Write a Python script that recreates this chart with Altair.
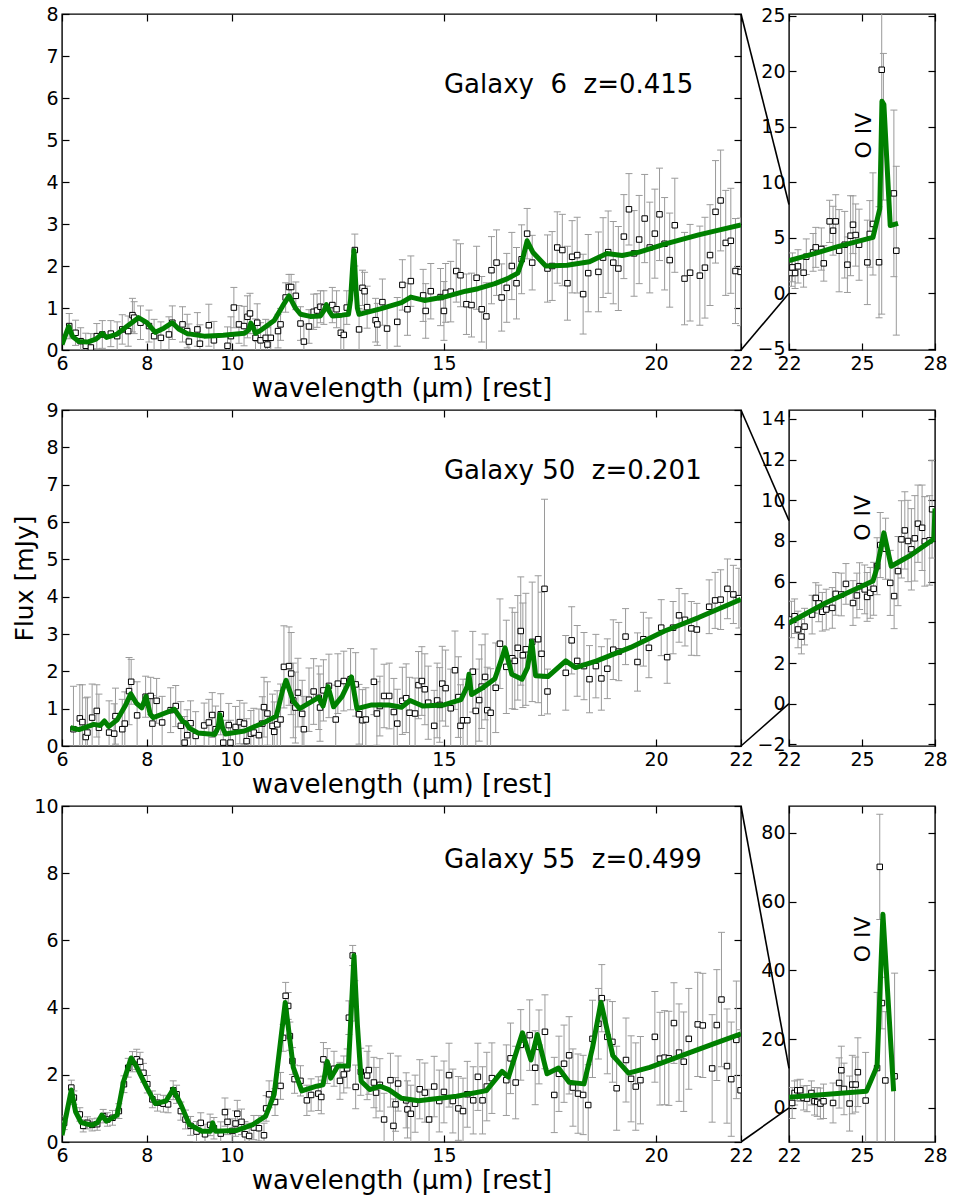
import altair as alt
import pandas as pd

FONT = "DejaVu Sans"
GRAY = "#9a9a9a"
GREEN = "#008000"

# ---------------- Galaxy 6 (z=0.415) ----------------
g6_wave = [6.17, 6.32, 6.44, 6.56, 6.68, 6.82, 6.95, 7.15, 7.30, 7.42, 7.56, 7.66, 7.70, 7.85, 8.05, 8.17, 8.33, 8.52, 8.60, 8.84,
           8.95, 8.99, 9.19, 9.25, 9.46, 9.58, 9.90, 9.98, 10.05, 10.17, 10.29, 10.37, 10.43, 10.56, 10.60, 10.68, 10.80, 10.84, 10.92, 11.09,
           11.15, 11.27, 11.35, 11.40, 11.51, 11.62, 11.70, 11.82, 11.93, 12.01, 12.09, 12.17, 12.37, 12.47, 12.57, 12.64, 12.71, 12.90, 13.00, 13.08,
           13.13, 13.19, 13.39, 13.43, 13.55, 13.66, 13.90, 14.02, 14.14, 14.22, 14.51, 14.57, 14.69, 14.92, 15.00, 15.04, 15.16, 15.29, 15.39, 15.53,
           15.65, 15.77, 15.89, 16.00, 16.12, 16.24, 16.36, 16.48, 16.60, 16.71, 16.83, 16.96, 17.08, 17.44, 17.55, 17.67, 17.79, 17.91, 18.02, 18.14,
           18.28, 18.40, 18.64, 18.75, 18.87, 18.99, 19.11, 19.24, 19.36, 19.48, 19.60, 19.73, 19.85, 19.97, 20.08, 20.20, 20.32, 20.44, 20.67, 20.80,
           21.03, 21.15, 21.27, 21.40, 21.52, 21.64, 21.76, 21.87, 21.99]
g6_flux = [0.57, 0.41, 0.21, 0.10, 0.06, 0.33, 0.37, 0.39, 0.33, 0.49, 0.45, 0.83, 0.77, 0.65, 0.57, 0.33, 0.29, 0.37, 0.65, 0.61,
           0.45, 0.20, 0.49, 0.15, 0.59, 0.23, 0.10, 0.33, 1.01, 0.61, 0.57, 0.79, 0.87, 0.29, 0.65, 0.23, 0.29, 0.13, 0.29, 0.45,
           0.61, 1.25, 1.50, 1.50, 1.29, 0.63, 0.20, 0.56, 0.91, 0.94, 1.03, 1.01, 1.07, 0.97, 0.41, 0.36, 1.01, 2.38, 0.49, 1.48,
           1.40, 1.02, 0.71, 0.61, 1.14, 0.51, 0.67, 1.55, 0.97, 1.64, 1.30, 0.93, 1.40, 1.26, 0.93, 1.36, 1.39, 1.88, 1.78, 1.09,
           1.07, 1.72, 0.97, 0.80, 1.90, 2.08, 1.25, 1.48, 2.00, 1.59, 2.16, 2.77, 2.08, 1.94, 2.00, 2.44, 2.38, 1.59, 2.22, 2.26,
           1.33, 1.83, 1.86, 2.20, 2.33, 2.08, 1.94, 2.70, 3.35, 2.30, 2.63, 3.13, 2.44, 2.77, 3.23, 2.53, 2.14, 2.97, 1.70, 1.84,
           1.77, 1.96, 2.26, 3.29, 3.56, 2.55, 2.60, 1.88, 1.86]
g6_err = [0.30, 0.30, 0.32, 0.30, 0.33, 0.30, 0.33, 0.31, 0.34, 0.35, 0.36, 0.40, 0.38, 0.40, 0.38, 0.40, 0.38, 0.42, 0.40, 0.42,
          0.40, 0.42, 0.40, 0.45, 0.50, 0.45, 0.45, 0.46, 0.48, 0.45, 0.47, 0.50, 0.48, 0.45, 0.45, 0.42, 0.44, 0.40, 0.40, 0.40,
          0.38, 0.35, 0.30, 0.30, 0.33, 0.40, 0.42, 0.40, 0.42, 0.40, 0.38, 0.40, 0.42, 0.44, 0.45, 0.46, 0.40, 0.38, 0.50, 0.42,
          0.45, 0.50, 0.52, 0.50, 0.55, 0.55, 0.58, 0.60, 0.62, 0.60, 0.62, 0.65, 0.66, 0.68, 0.70, 0.70, 0.72, 0.74, 0.75, 0.72,
          0.76, 0.75, 0.78, 0.80, 0.80, 0.78, 0.80, 0.82, 0.80, 0.85, 0.82, 0.60, 0.65, 0.80, 0.82, 0.85, 0.85, 0.88, 0.86, 0.90,
          0.95, 0.92, 0.95, 0.95, 0.98, 0.98, 1.00, 1.00, 0.85, 1.02, 1.05, 1.05, 1.08, 1.06, 1.10, 1.10, 1.12, 1.12, 1.10, 1.15,
          1.18, 1.20, 1.20, 1.22, 1.20, 1.25, 1.25, 1.25, 1.28]
g6_model_wave = [6.00, 6.08, 6.16, 6.25, 6.40, 6.60, 6.80, 6.95, 7.05, 7.30, 7.55, 7.80, 8.00, 8.20, 8.40, 8.60, 8.75, 8.95, 9.35, 9.80,
                 10.30, 10.40, 10.45, 10.50, 10.56, 10.70, 11.00, 11.20, 11.35, 11.50, 11.62, 11.85, 12.09, 12.18, 12.23, 12.30, 12.37, 12.60, 12.75, 12.80,
                 12.85, 12.88, 12.92, 12.96, 13.00, 13.50, 14.00, 14.22, 14.54, 15.00, 15.51, 15.80, 16.20, 16.50, 16.74, 16.85, 16.96, 17.10, 17.40, 17.90,
                 18.43, 18.84, 19.20, 19.60, 20.20, 21.00, 21.50, 22.00]
g6_model_flux = [0.13, 0.35, 0.56, 0.32, 0.20, 0.19, 0.26, 0.39, 0.30, 0.38, 0.58, 0.77, 0.65, 0.42, 0.52, 0.65, 0.50, 0.39, 0.33, 0.35,
                 0.40, 0.48, 0.64, 0.55, 0.40, 0.48, 0.70, 1.05, 1.29, 1.00, 0.85, 0.80, 0.81, 0.95, 1.08, 0.92, 0.81, 0.83, 0.85, 1.20,
                 2.00, 2.37, 1.60, 1.00, 0.85, 0.98, 1.13, 1.26, 1.18, 1.26, 1.40, 1.46, 1.58, 1.70, 1.83, 2.15, 2.60, 2.32, 2.00, 2.02,
                 2.10, 2.30, 2.25, 2.33, 2.52, 2.74, 2.86, 2.98]
g6_in_wave = [22.10, 22.14, 22.25, 22.37, 22.60, 22.71, 22.99, 23.10, 23.33, 23.43, 23.67, 23.81, 23.92, 24.06, 24.29, 24.40, 24.53, 24.63, 24.74, 24.88,
              25.22, 25.32, 25.45, 25.70, 25.81, 25.88, 26.31, 26.41]
g6_in_flux = [1.83, 2.34, 1.83, 2.43, 1.86, 3.30, 3.69, 4.14, 3.99, 2.70, 6.48, 5.64, 6.48, 3.84, 4.38, 2.58, 5.19, 6.18, 5.25, 4.38,
              2.79, 5.35, 6.25, 2.80, 20.13, 15.00, 9.00, 3.84]
g6_in_err = [1.2, 1.3, 1.4, 1.5, 1.3, 1.6, 1.7, 1.8, 1.9, 1.6, 1.9, 2.2, 2.4, 3.7, 3.0, 2.5, 3.6, 2.6, 2.8, 3.2,
             3.8, 3.0, 4.6, 5.0, 22.0, 6.6, 7.5, 7.6]
g6_in_model_wave = [22.00, 23.00, 24.00, 25.45, 25.73, 25.82, 25.90, 26.16, 26.48]
g6_in_model_flux = [2.94, 3.55, 4.20, 5.04, 7.60, 17.30, 17.00, 6.10, 6.30]

# ---------------- Galaxy 50 (z=0.201) ----------------
g50_wave = [6.27, 6.42, 6.48, 6.56, 6.60, 6.71, 6.82, 6.87, 7.11, 7.23, 7.26, 7.42, 7.48, 7.58, 7.63, 7.77, 7.97, 8.09, 8.13, 8.23,
            8.36, 8.56, 8.68, 8.80, 8.89, 8.95, 9.03, 9.15, 9.35, 9.46, 9.54, 9.62, 9.74, 9.80, 9.93, 9.97, 10.09, 10.19, 10.29, 10.35,
            10.45, 10.52, 10.64, 10.72, 10.76, 10.84, 10.96, 11.00, 11.07, 11.15, 11.23, 11.35, 11.40, 11.45, 11.50, 11.56, 11.66, 11.70, 11.82, 11.93,
            12.05, 12.08, 12.16, 12.29, 12.45, 12.50, 12.64, 12.80, 12.92, 13.00, 13.08, 13.16, 13.35, 13.42, 13.49, 13.59, 13.71, 13.82, 13.90, 14.02,
            14.11, 14.19, 14.32, 14.40, 14.48, 14.55, 14.63, 14.77, 14.84, 14.90, 14.96, 15.04, 15.16, 15.26, 15.34, 15.39, 15.45, 15.55, 15.68, 15.75,
            15.83, 15.89, 15.97, 16.02, 16.10, 16.22, 16.32, 16.47, 16.61, 16.67, 16.74, 16.81, 16.86, 16.93, 17.08, 17.22, 17.30, 17.37, 17.44, 17.87,
            18.01, 18.14, 18.30, 18.43, 18.58, 18.71, 18.85, 18.99, 19.12, 19.28, 19.56, 19.70, 19.83, 20.12, 20.26, 20.40, 20.54, 20.68, 20.83, 20.96,
            21.25, 21.39, 21.52, 21.68, 21.82, 21.95]
g50_flux = [0.45, 0.74, 0.64, 0.24, 0.36, 0.76, 0.94, 0.49, 0.36, 0.33, 0.80, 0.45, 0.60, 1.47, 1.72, 0.82, 1.32, 1.34, 0.60, 1.21,
            0.63, 0.96, 1.07, 0.54, 0.09, 0.29, 0.61, 0.27, 0.55, 0.63, 0.83, 0.45, 0.85, 0.09, 0.56, 0.09, 0.51, 0.64, 0.60, 0.13,
            0.33, 0.36, 0.29, 0.60, 1.04, 0.87, 0.54, 0.38, 0.58, 0.71, 2.12, 2.14, 1.94, 1.22, 1.03, 1.43, 0.86, 0.45, 1.24, 1.46,
            1.29, 1.03, 1.49, 1.61, 0.71, 1.67, 1.74, 1.79, 1.65, 0.85, 0.69, 0.71, 1.72, 0.87, 1.07, 1.34, 1.34, 0.91, 0.60, 1.21,
            1.28, 0.89, 0.87, 1.63, 1.74, 1.52, 1.16, 0.54, 1.22, 1.10, 1.67, 1.55, 1.01, 2.03, 1.31, 0.54, 0.69, 0.69, 1.99, 0.94,
            1.23, 1.59, 1.85, 0.96, 0.89, 1.56, 2.74, 2.12, 2.35, 2.28, 2.63, 3.08, 2.43, 2.59, 2.79, 2.86, 2.47, 4.21, 1.46, 1.96,
            2.83, 2.28, 2.14, 1.79, 2.14, 1.81, 2.07, 2.58, 2.53, 2.93, 2.25, 2.86, 2.63, 3.17, 2.38, 3.17, 3.50, 3.38, 3.15, 3.12,
            3.73, 3.90, 3.92, 4.21, 4.06, 3.96]
g50_err = [1.15, 0.90, 1.00, 1.05, 0.95, 0.90, 0.70, 0.90, 0.85, 0.80, 0.75, 0.80, 0.85, 0.90, 0.60, 0.90, 0.55, 0.50, 0.75, 0.60,
           0.70, 0.60, 0.55, 0.65, 0.70, 0.68, 0.60, 0.65, 0.60, 0.62, 0.60, 0.62, 0.55, 0.60, 0.58, 0.60, 0.55, 0.58, 0.55, 0.60,
           0.62, 0.65, 0.70, 0.72, 0.80, 0.85, 0.85, 0.80, 0.90, 0.95, 1.10, 1.05, 1.10, 1.00, 0.95, 0.92, 0.90, 0.88, 0.85, 0.88,
           0.85, 0.90, 0.82, 0.85, 0.92, 0.80, 0.80, 0.82, 0.85, 0.80, 0.82, 0.85, 0.88, 0.85, 0.80, 0.85, 0.88, 0.90, 0.92, 0.90,
           0.92, 0.95, 0.95, 0.90, 0.92, 0.95, 0.98, 0.95, 1.00, 1.00, 1.00, 1.02, 1.05, 1.05, 1.08, 1.10, 1.10, 1.10, 1.08, 1.12,
           1.10, 1.12, 1.15, 1.15, 1.18, 1.20, 1.20, 1.25, 1.35, 1.30, 1.40, 1.45, 1.40, 1.50, 1.60, 1.70, 1.65, 2.40, 0.60, 1.00,
           0.90, 0.95, 0.90, 0.90, 0.85, 0.85, 0.80, 0.80, 0.78, 0.75, 0.78, 0.72, 0.80, 0.75, 0.70, 0.70, 0.72, 0.70, 0.72, 0.70,
           0.72, 0.75, 0.80, 0.80, 0.78, 0.80]
g50_model_wave = [6.20, 6.40, 6.60, 6.75, 6.90, 7.00, 7.10, 7.30, 7.50, 7.62, 7.75, 7.88, 7.98, 8.08, 8.15, 8.40, 8.65, 8.85, 8.92, 9.00,
                  9.20, 9.60, 9.68, 9.72, 9.78, 9.85, 10.30, 10.80, 11.05, 11.20, 11.28, 11.45, 11.60, 11.90, 12.05, 12.15, 12.27, 12.40, 12.60, 12.82,
                  12.95, 13.30, 13.70, 14.00, 14.20, 14.50, 15.00, 15.40, 15.55, 15.59, 15.65, 15.90, 16.20, 16.38, 16.44, 16.60, 16.84, 16.97, 17.07, 17.16,
                  17.45, 17.87, 18.10, 18.60, 19.40, 20.20, 21.00, 22.00]
g50_model_flux = [0.49, 0.44, 0.52, 0.58, 0.55, 0.67, 0.52, 0.70, 1.10, 1.40, 1.15, 1.02, 1.33, 0.85, 0.76, 0.87, 0.98, 0.65, 0.62, 0.48,
                  0.35, 0.31, 0.50, 0.84, 0.50, 0.32, 0.40, 0.65, 0.80, 1.50, 1.76, 1.20, 1.00, 1.20, 1.30, 1.07, 1.59, 1.05, 1.33, 1.85,
                  1.00, 1.10, 1.10, 1.04, 1.22, 1.07, 1.10, 1.24, 1.60, 1.92, 1.38, 1.55, 1.80, 2.40, 2.63, 1.92, 1.79, 2.10, 2.80, 1.88,
                  1.86, 2.28, 2.10, 2.28, 2.64, 3.08, 3.44, 3.93]
g50_in_wave = [22.10, 22.23, 22.37, 22.51, 22.64, 22.95, 23.10, 23.22, 23.37, 23.53, 23.78, 23.92, 24.15, 24.34, 24.63, 24.79, 24.90, 25.11, 25.21, 25.34,
               25.48, 25.62, 25.75, 25.97, 26.16, 26.32, 26.48, 26.62, 26.76, 26.89, 27.03, 27.17, 27.30, 27.47, 27.58, 27.78, 27.88]
g50_in_flux = [4.14, 4.30, 3.65, 3.30, 3.79, 4.38, 5.20, 4.93, 4.52, 4.63, 4.71, 5.40, 5.37, 5.89, 4.95, 5.32, 5.78, 5.62, 5.25, 5.45,
               5.65, 6.76, 7.80, 7.62, 5.94, 5.29, 6.52, 8.08, 8.52, 8.00, 7.59, 8.13, 8.85, 8.65, 7.98, 8.03, 9.56]
g50_in_err = [0.90, 0.85, 0.90, 0.85, 0.90, 0.95, 0.75, 0.90, 0.95, 1.00, 1.00, 1.05, 1.05, 1.00, 1.10, 1.10, 1.15, 1.20, 1.20, 1.25,
              1.30, 1.40, 1.60, 1.50, 1.60, 1.60, 1.70, 1.90, 1.90, 2.00, 2.00, 2.10, 1.90, 2.10, 2.20, 2.20, 2.40]
g50_in_model_wave = [22.00, 23.50, 25.45, 25.62, 25.90, 26.20, 27.00, 27.95, 28.00]
g50_in_model_flux = [3.97, 4.95, 6.03, 6.70, 8.40, 6.76, 7.30, 8.10, 9.60]

# ---------------- Galaxy 55 (z=0.499) ----------------
g55_wave = [6.05, 6.22, 6.28, 6.42, 6.50, 6.60, 6.71, 6.83, 6.97, 7.07, 7.19, 7.34, 7.46, 7.56, 7.66, 7.76, 7.84, 7.92, 8.01, 8.13,
            8.25, 8.39, 8.50, 8.62, 8.70, 8.80, 8.91, 9.03, 9.17, 9.27, 9.37, 9.49, 9.58, 9.74, 9.84, 9.90, 10.01, 10.09, 10.13, 10.23,
            10.31, 10.41, 10.52, 10.64, 10.76, 10.81, 10.88, 11.02, 11.15, 11.21, 11.27, 11.33, 11.37, 11.43, 11.48, 11.62, 11.77, 11.87, 12.04, 12.11,
            12.16, 12.25, 12.41, 12.55, 12.64, 12.72, 12.76, 12.85, 12.90, 12.92, 13.04, 13.19, 13.23, 13.35, 13.40, 13.49, 13.59, 13.74, 13.81, 13.86,
            13.92, 14.11, 14.14, 14.22, 14.32, 14.43, 14.55, 14.65, 14.77, 14.89, 15.00, 15.12, 15.21, 15.34, 15.45, 15.55, 15.69, 15.80, 15.91, 16.01,
            16.13, 16.47, 16.57, 16.69, 16.81, 17.02, 17.15, 17.24, 17.38, 17.60, 17.71, 17.83, 17.95, 18.04, 18.16, 18.28, 18.40, 18.50, 18.64, 18.72,
            18.85, 18.97, 19.07, 19.29, 19.41, 19.52, 19.63, 19.97, 20.09, 20.20, 20.30, 20.42, 20.54, 20.65, 20.77, 20.98, 21.10, 21.32, 21.43, 21.54,
            21.67, 21.77, 21.89, 21.99]
g55_flux = [0.57, 1.62, 1.32, 0.82, 0.48, 0.57, 0.51, 0.53, 0.77, 0.67, 0.72, 0.92, 1.72, 2.21, 2.39, 2.46, 2.39, 2.06, 1.72, 1.27,
            1.17, 1.14, 1.12, 1.54, 1.42, 0.92, 0.67, 0.48, 0.31, 0.57, 0.23, 0.51, 0.41, 0.25, 0.89, 0.60, 0.33, 0.55, 0.84, 0.60,
            0.23, 0.18, 0.43, 0.41, 0.20, 1.00, 1.42, 1.19, 1.67, 3.10, 4.35, 4.05, 3.15, 2.41, 1.87, 1.82, 1.24, 1.40, 1.44, 1.34,
            2.46, 2.26, 2.18, 1.82, 2.01, 2.19, 3.70, 5.55, 4.20, 1.64, 2.09, 1.98, 2.14, 1.77, 1.47, 1.70, 0.67, 1.84, 0.48, 1.12,
            1.74, 1.24, 0.97, 0.84, 1.14, 1.57, 1.47, 0.67, 1.65, 1.22, 1.49, 1.99, 1.22, 1.00, 0.92, 1.42, 1.24, 1.94, 1.24, 1.65,
            1.90, 1.84, 2.49, 1.77, 2.89, 3.18, 2.21, 2.83, 3.28, 1.40, 2.03, 2.33, 2.58, 1.62, 1.44, 1.40, 1.10, 3.07, 3.52, 4.28,
            3.13, 2.98, 1.60, 2.44, 1.88, 1.65, 1.84, 3.13, 2.48, 2.51, 2.49, 3.54, 2.66, 2.39, 3.07, 3.50, 3.47, 2.19, 3.48, 4.24,
            2.26, 1.87, 3.04, 1.54]
g55_err = [0.20, 0.22, 0.20, 0.20, 0.18, 0.18, 0.18, 0.18, 0.20, 0.20, 0.22, 0.22, 0.25, 0.28, 0.30, 0.30, 0.28, 0.28, 0.26, 0.25,
           0.25, 0.25, 0.25, 0.28, 0.27, 0.27, 0.28, 0.28, 0.30, 0.30, 0.30, 0.32, 0.32, 0.35, 0.42, 0.38, 0.36, 0.38, 0.40, 0.38,
           0.38, 0.38, 0.36, 0.38, 0.36, 0.38, 0.40, 0.40, 0.40, 0.40, 0.40, 0.40, 0.42, 0.40, 0.42, 0.45, 0.45, 0.48, 0.50, 0.50,
           0.50, 0.52, 0.52, 0.55, 0.55, 0.58, 0.50, 0.30, 0.60, 0.65, 0.70, 0.72, 0.72, 0.75, 0.75, 0.78, 0.78, 0.80, 0.80, 0.80,
           0.82, 0.82, 0.85, 0.85, 0.85, 0.88, 0.88, 0.90, 0.90, 0.92, 0.92, 0.95, 0.95, 0.95, 0.98, 0.98, 1.00, 1.00, 1.00, 1.02,
           1.05, 1.05, 1.05, 1.08, 1.05, 1.05, 1.10, 1.10, 1.10, 1.12, 1.12, 1.15, 1.15, 1.15, 1.18, 1.18, 1.20, 1.15, 1.05, 1.00,
           1.10, 1.20, 1.25, 1.25, 1.28, 1.30, 1.30, 1.35, 1.38, 1.40, 1.40, 1.20, 1.45, 1.48, 1.50, 1.55, 1.55, 1.60, 1.65, 2.00,
           1.70, 1.70, 1.75, 1.80]
g55_model_wave = [6.00, 6.10, 6.22, 6.32, 6.45, 6.70, 6.83, 6.94, 7.05, 7.30, 7.45, 7.63, 7.75, 8.00, 8.20, 8.45, 8.62, 8.80, 9.00, 9.30,
                  9.50, 9.55, 9.62, 10.10, 10.50, 10.80, 11.00, 11.15, 11.26, 11.45, 11.65, 12.00, 12.15, 12.25, 12.33, 12.50, 12.75, 12.82, 12.88, 12.96,
                  13.05, 13.25, 13.50, 13.70, 14.00, 14.40, 15.30, 16.00, 16.37, 16.52, 16.85, 17.05, 17.20, 17.43, 17.70, 17.95, 18.30, 18.50, 18.70, 18.98,
                  19.35, 19.85, 20.60, 21.35, 22.00]
g55_model_flux = [0.20, 0.80, 1.55, 0.90, 0.58, 0.50, 0.57, 0.80, 0.62, 0.80, 1.80, 2.50, 2.26, 1.62, 1.14, 1.22, 1.57, 1.12, 0.52, 0.32,
                  0.32, 0.57, 0.32, 0.34, 0.52, 0.77, 1.42, 3.00, 4.15, 2.22, 1.52, 1.66, 1.70, 2.40, 1.90, 2.26, 2.26, 4.00, 5.55, 3.50,
                  1.81, 1.56, 1.66, 1.56, 1.30, 1.23, 1.36, 1.53, 2.10, 1.93, 3.25, 2.44, 3.20, 2.03, 2.20, 1.78, 1.73, 2.80, 4.16, 2.57,
                  2.05, 2.22, 2.57, 2.92, 3.22]
g55_in_wave = [22.13, 22.23, 22.34, 22.46, 22.60, 22.74, 22.92, 23.05, 23.16, 23.29, 23.42, 23.81, 24.06, 24.15, 24.26, 24.49, 24.60, 24.74, 24.83, 25.15,
               25.62, 25.73, 25.82, 25.96, 26.34]
g55_in_flux = [1.45, 4.36, 5.14, 5.14, 2.90, 2.72, 4.36, 1.94, 1.75, 1.28, 1.94, 1.45, 7.27, 10.96, 5.53, 1.28, 6.80, 6.80, 10.40, 2.15,
               11.60, 70.10, 30.50, 8.00, 9.20]
g55_in_err = [4.5, 3.5, 3.0, 3.2, 3.5, 3.8, 3.5, 4.0, 4.2, 4.5, 5.0, 5.8, 7.3, 7.0, 7.5, 8.0, 8.5, 8.0, 10.0, 14.0,
              22.0, 15.3, 7.5, 20.0, 30.0]
g55_in_model_wave = [22.00, 25.18, 25.62, 25.86, 26.30]
g55_in_model_flux = [3.10, 4.86, 12.10, 56.30, 4.86]

# ---------------- text ----------------
titles = ["Galaxy\u00a0\u00a06\u00a0\u00a0z=0.415", "Galaxy 50\u00a0\u00a0z=0.201", "Galaxy 55\u00a0\u00a0z=0.499"]
XTITLE = "wavelength (\u03bcm) [rest]"
YTITLE = "Flux [mJy]"
LINE_LABEL = "O IV"

MAIN_W, INSET_W, H, GAP = 679, 146, 336, 48


def axis(orient, values, labels=True, title=None, **kw):
    opts = dict(orient=orient, values=values, offset=-7, tickSize=7, domain=False, grid=False,
                tickColor="black", tickWidth=1.2, labels=labels, labelFont=FONT, labelFontSize=19,
                labelColor="black", labelFlush=False, labelOverlap=False,
                titleFont=FONT, titleFontSize=26, titleFontWeight="normal", titleColor="black", title=title)
    opts.update(kw)
    return alt.Axis(**opts)


def panel(wave, flux, err, mwave, mflux, xdom, ydom, xticks, yticks, width,
          xtitle=None, ytitle=None, label=None, label_pos=None, oiv_pos=None, connect=None):
    df = pd.DataFrame({"w": wave, "f": flux,
                       "lo": [f - e for f, e in zip(flux, err)],
                       "hi": [f + e for f, e in zip(flux, err)]})
    dm = pd.DataFrame({"w": mwave, "f": mflux})
    xs = alt.Scale(domain=xdom, nice=False, zero=False)
    ys = alt.Scale(domain=ydom, nice=False, zero=False)

    bars = alt.Chart(df).mark_rule(color=GRAY, strokeWidth=1, clip=True).encode(
        x=alt.X("w:Q", scale=xs, axis=axis("bottom", xticks, title=xtitle, labelPadding=4, titlePadding=2)),
        y=alt.Y("lo:Q", scale=ys, axis=axis("left", yticks, title=ytitle, labelPadding=4, titlePadding=8,
                                            titleFontSize=25)),
        y2="hi:Q")
    cap_lo = alt.Chart(df).mark_tick(orient="horizontal", size=7, thickness=1, color=GRAY,
                                     opacity=1, clip=True).encode(
        x=alt.X("w:Q", scale=xs, axis=axis("top", xticks, labels=False)),
        y=alt.Y("lo:Q", scale=ys, axis=axis("right", yticks, labels=False)))
    cap_hi = alt.Chart(df).mark_tick(orient="horizontal", size=7, thickness=1, color=GRAY,
                                     opacity=1, clip=True).encode(
        x=alt.X("w:Q", scale=xs, axis=None),
        y=alt.Y("hi:Q", scale=ys, axis=None))
    pts = alt.Chart(df).mark_square(size=30, fill="white", stroke="black", strokeWidth=1,
                                    opacity=1, clip=True).encode(
        x=alt.X("w:Q", scale=xs, axis=None),
        y=alt.Y("f:Q", scale=ys, axis=None))
    model = alt.Chart(dm).mark_line(color=GREEN, strokeWidth=5, strokeJoin="round", clip=True).encode(
        x=alt.X("w:Q", scale=xs, axis=None),
        y=alt.Y("f:Q", scale=ys, axis=None))
    layers = [bars, cap_lo, cap_hi, pts, model]

    if label is not None:
        layers.append(alt.Chart(pd.DataFrame({"t": [label]})).mark_text(
            align="left", baseline="alphabetic", font=FONT, fontSize=26, color="black").encode(
            x=alt.X(datum=label_pos[0], axis=None), y=alt.Y(datum=label_pos[1], axis=None), text="t:N"))
    if oiv_pos is not None:
        layers.append(alt.Chart(pd.DataFrame({"t": [LINE_LABEL]})).mark_text(
            align="center", baseline="middle", angle=270, font=FONT, fontSize=22, color="black").encode(
            x=alt.X(datum=oiv_pos[0], axis=None), y=alt.Y(datum=oiv_pos[1], axis=None), text="t:N"))
    if connect is not None:
        dcon = pd.DataFrame({"a": [0]})
        layers.append(alt.Chart(dcon).mark_rule(color="black", strokeWidth=1.6).encode(
            x=alt.value(0), x2=alt.value(-GAP), y=alt.Y(datum=connect[1], axis=None), y2=alt.value(0)))
        layers.append(alt.Chart(dcon).mark_rule(color="black", strokeWidth=1.6).encode(
            x=alt.value(0), x2=alt.value(-GAP), y=alt.Y(datum=connect[0], axis=None), y2=alt.value(H)))

    return alt.layer(*layers).resolve_axis(x="independent", y="independent").properties(width=width, height=H)


MAIN_X = [6, 8, 10, 15, 20, 22]
INSET_X = [22, 25, 28]

cells = [
    panel(g6_wave, g6_flux, g6_err, g6_model_wave, g6_model_flux, [6, 22], [0, 8], MAIN_X,
          list(range(0, 9)), MAIN_W, xtitle=XTITLE, label=titles[0], label_pos=(15.0, 6.12)),
    panel(g6_in_wave, g6_in_flux, g6_in_err, g6_in_model_wave, g6_in_model_flux, [22, 28], [-5.1, 25.15], INSET_X,
          [-5, 0, 5, 10, 15, 20, 25], INSET_W, oiv_pos=(25.1, 14.2), connect=(0, 8)),
    panel(g50_wave, g50_flux, g50_err, g50_model_wave, g50_model_flux, [6, 22], [0, 9], MAIN_X,
          list(range(0, 10)), MAIN_W, xtitle=XTITLE, ytitle=YTITLE, label=titles[1], label_pos=(15.0, 7.14)),
    panel(g50_in_wave, g50_in_flux, g50_in_err, g50_in_model_wave, g50_in_model_flux, [22, 28], [-2.08, 14.44], INSET_X,
          [-2, 0, 2, 4, 6, 8, 10, 12, 14], INSET_W, oiv_pos=(25.04, 9.14), connect=(0, 9)),
    panel(g55_wave, g55_flux, g55_err, g55_model_wave, g55_model_flux, [6, 22], [0, 10], MAIN_X,
          [0, 2, 4, 6, 8, 10], MAIN_W, xtitle=XTITLE, label=titles[2], label_pos=(15.0, 8.16)),
    panel(g55_in_wave, g55_in_flux, g55_in_err, g55_in_model_wave, g55_in_model_flux, [22, 28], [-9.9, 87.8], INSET_X,
          [0, 20, 40, 60, 80], INSET_W, oiv_pos=(25.04, 49.0), connect=(0, 11.5)),
]

chart = alt.concat(*cells, columns=2, spacing={"row": 60, "column": GAP}, bounds="flush", align="each").properties(
    padding={"left": 12, "top": 4, "right": 4, "bottom": 2},
    background="white",
).configure_view(stroke="black", strokeWidth=1.4)

chart.save("out.html", embed_options={"renderer": "svg", "actions": False})
